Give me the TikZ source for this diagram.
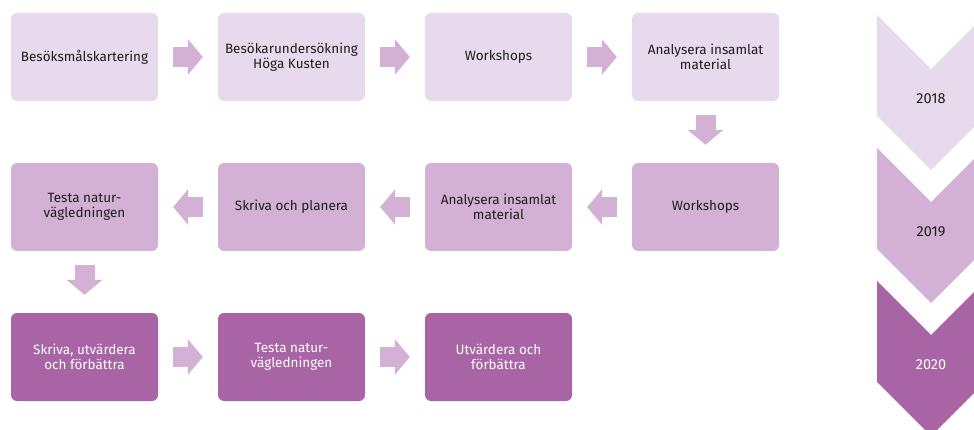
\documentclass[tikz,border=0pt]{standalone}
\usepackage{fontspec}
\setmainfont{Fira Sans}
\usepackage{tikz}
\usetikzlibrary{arrows.meta}
\definecolor{lilaljus}{HTML}{E7DAEC}
\definecolor{lilamellan}{HTML}{D2B1D5}
\definecolor{lilamork}{HTML}{A864A4}
\definecolor{textgra}{HTML}{1E1E1E}
\tikzstyle{ruta} = [rectangle, rounded corners=6pt, minimum width=147pt, minimum height=88pt, inner sep=0pt, align=center, font=\fontsize{13.5}{15.5}\selectfont, text=textgra]
\tikzstyle{fas1} = [ruta, fill=lilaljus]
\tikzstyle{fas2} = [ruta, fill=lilamellan]
\tikzstyle{fas3} = [ruta, fill=lilamork, text=white]
\tikzstyle{pil} = [draw=lilamellan, line width=20pt, -{Triangle[length=15pt,width=35pt]}, shorten <=15pt, shorten >=15pt]

\begin{document}
\begin{tikzpicture}[x=1pt,y=-1pt]
\useasboundingbox (0,0) rectangle (974,430);

% tidslinje
\begin{scope}
\clip (0,0) rectangle (974,430);
\foreach \y/\farg/\ar/\tf in {15/lilaljus/2018/textgra, 148/lilamellan/2019/textgra, 281/lilamork/2020/white}
{
\fill[\farg] (877,\y) -- (931,\y+54) -- (985,\y) -- (985,\y+101) -- (931,\y+155) -- (877,\y+101) -- cycle;
\node[font=\fontsize{14.5}{16}\selectfont, text=\tf] (ar\ar) at (931,\y+84) {\ar};
}
\end{scope}

% rad 1
\node[fas1] (a1) at (84.5,57) {Besöksmålskartering};
\node[fas1] (a2) at (291.5,57) {Besökarundersökning\\Höga Kusten};
\node[fas1] (a3) at (498.5,57) {Workshops};
\node[fas1] (a4) at (705.5,57) {Analysera insamlat\\material};

% rad 2
\node[fas2] (b4) at (705.5,207) {Workshops};
\node[fas2] (b3) at (498.5,207) {Analysera insamlat\\material};
\node[fas2] (b2) at (291.5,207) {Skriva och planera};
\node[fas2] (b1) at (84.5,207) {Testa natur-\\vägledningen};

% rad 3
\node[fas3] (c1) at (84.5,357) {Skriva, utvärdera\\och förbättra};
\node[fas3] (c2) at (291.5,357) {Testa natur-\\vägledningen};
\node[fas3] (c3) at (498.5,357) {Utvärdera och\\förbättra};

\draw[pil] (a1) -- (a2);
\draw[pil] (a2) -- (a3);
\draw[pil] (a3) -- (a4);
\draw[pil, shorten <=14pt, shorten >=18pt] (a4) -- (b4);
\draw[pil] (b4) -- (b3);
\draw[pil] (b3) -- (b2);
\draw[pil] (b2) -- (b1);
\draw[pil, shorten <=14pt, shorten >=18pt] (b1) -- (c1);
\draw[pil] (c1) -- (c2);
\draw[pil] (c2) -- (c3);
\end{tikzpicture}
\end{document}
